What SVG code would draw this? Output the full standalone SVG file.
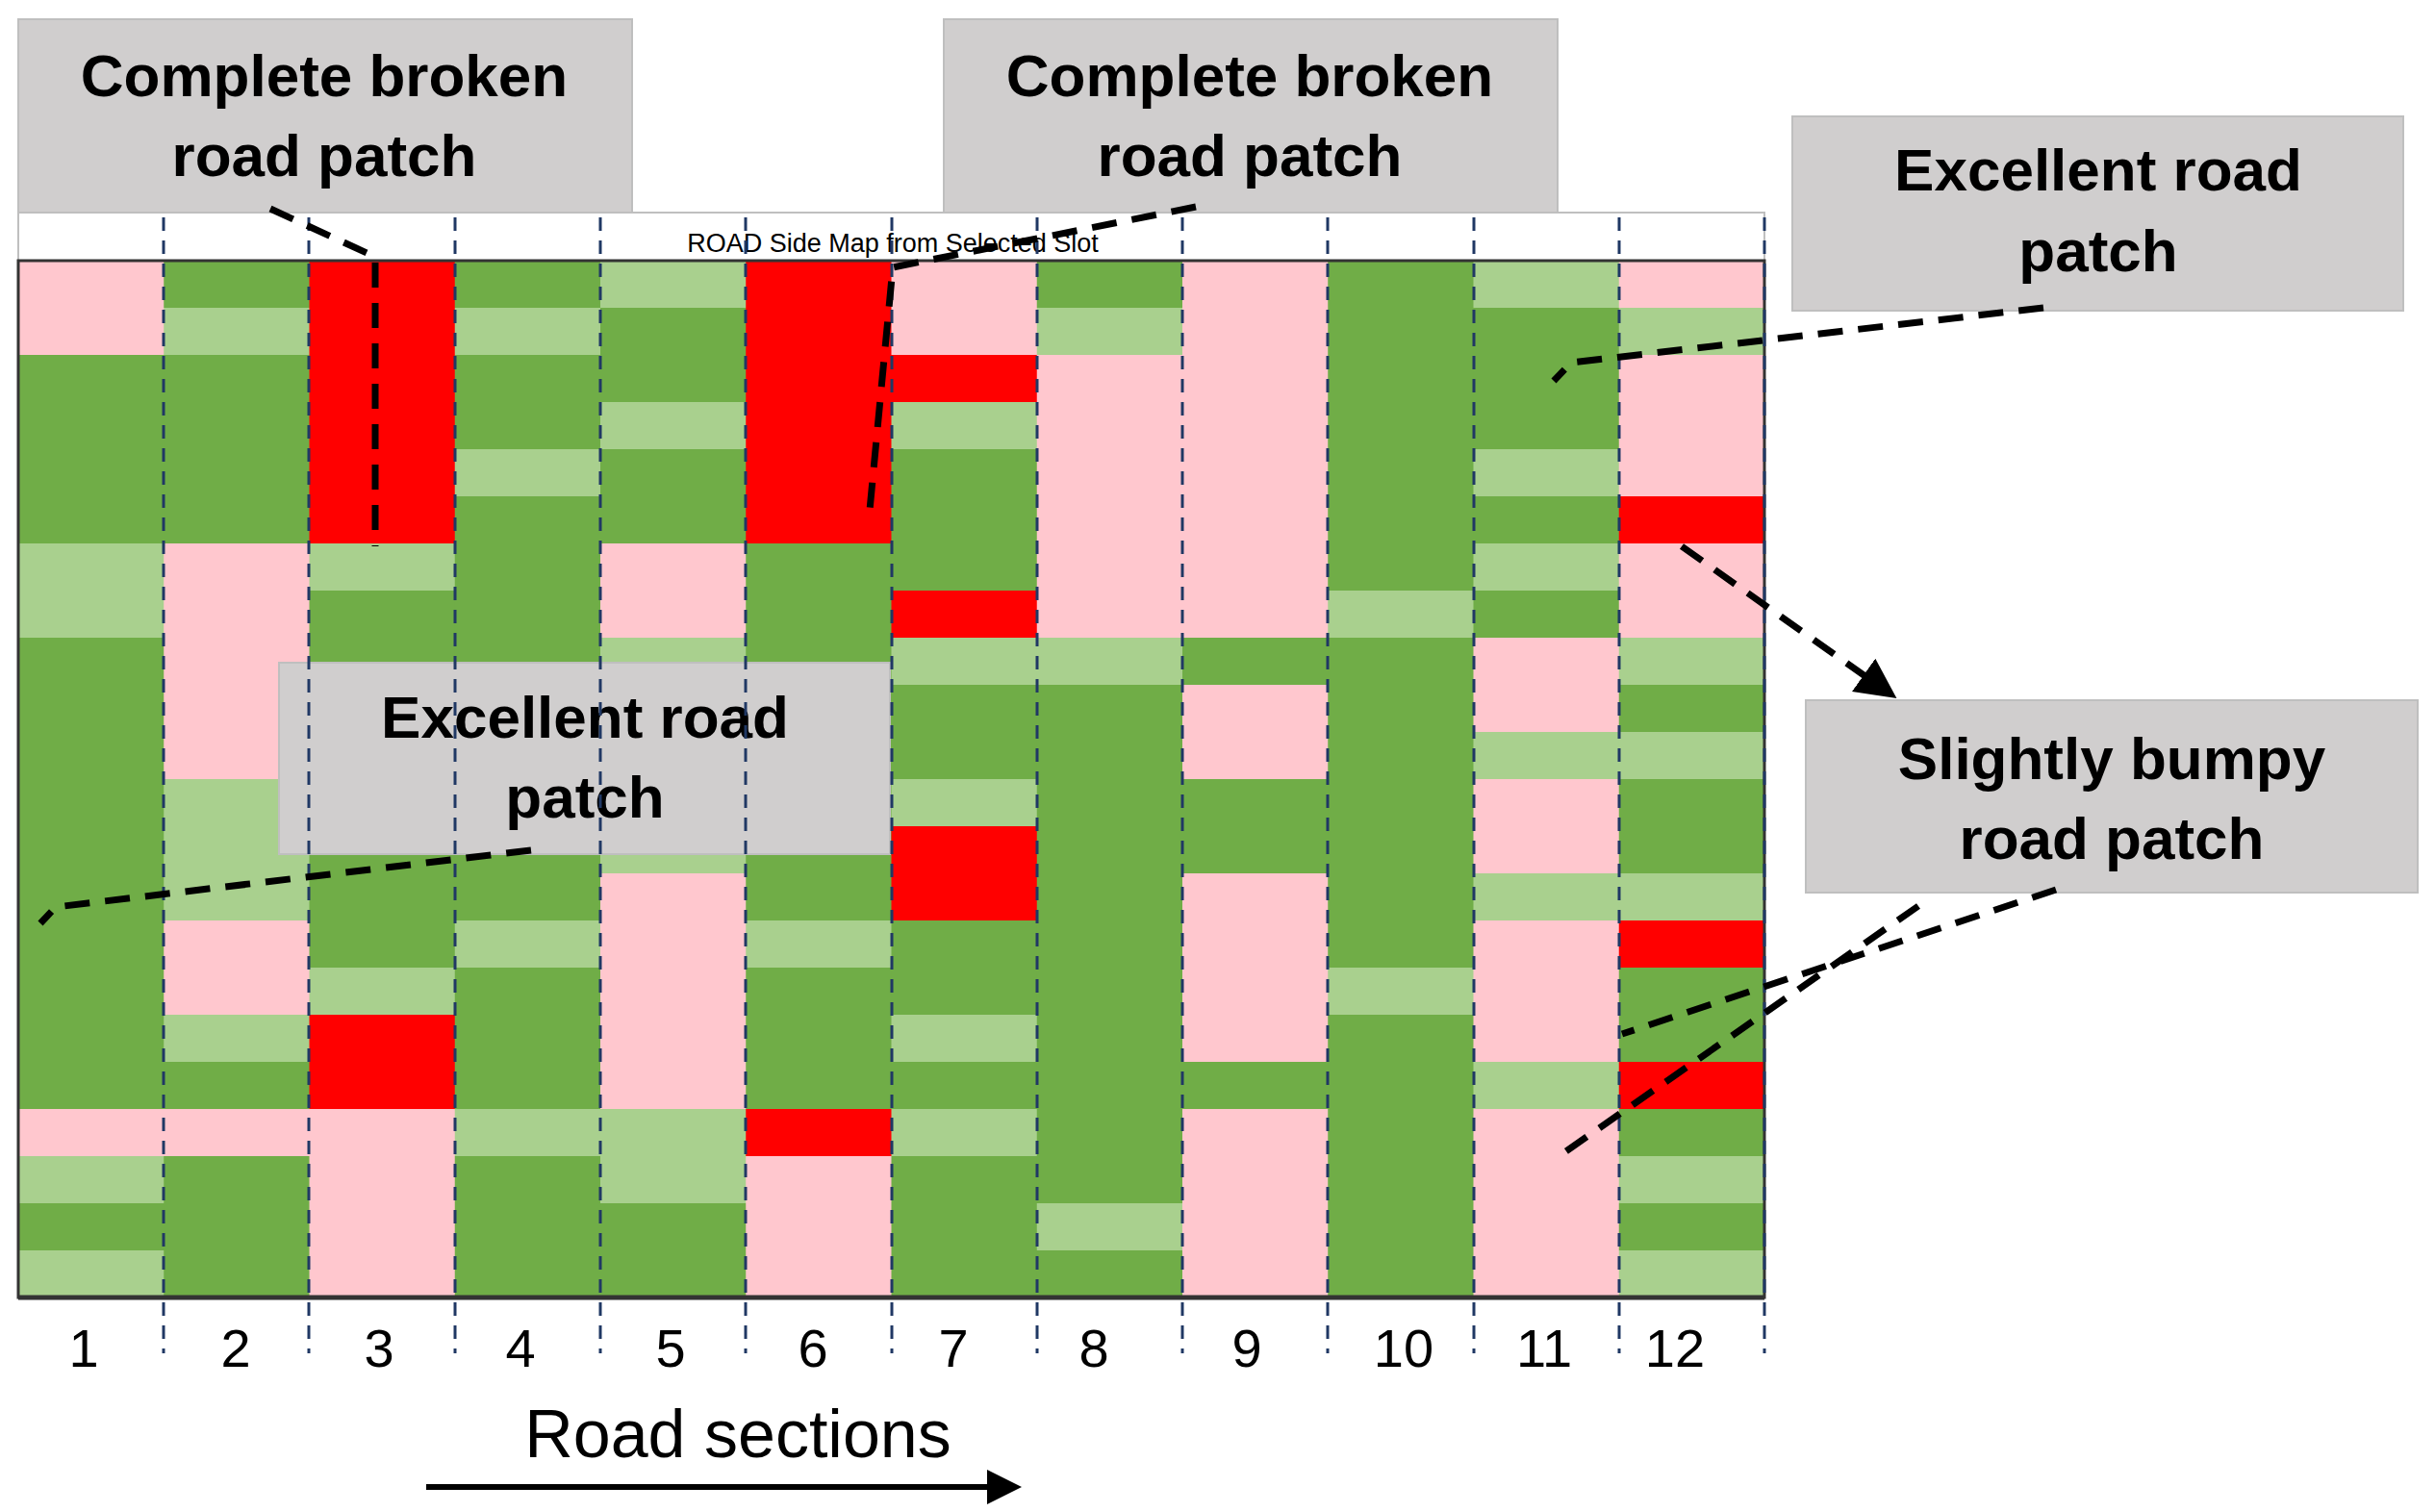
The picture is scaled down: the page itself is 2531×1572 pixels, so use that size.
<svg xmlns="http://www.w3.org/2000/svg" width="2531" height="1572" viewBox="0 0 2531 1572">
<style>
.G{fill:#70AD47}.L{fill:#A9D08E}.P{fill:#FFC7CE}.R{fill:#FF0000}
.box{fill:#D0CECE;stroke:#BFBFBF;stroke-width:2}
.bt{font-family:"Liberation Sans",Arial,sans-serif;font-weight:bold;font-size:62px;fill:#000;text-anchor:middle}
.num{font-family:"Liberation Sans",Arial,sans-serif;font-size:56px;fill:#000;text-anchor:middle}
.vl{stroke:#203864;stroke-width:3;stroke-dasharray:14 10;fill:none}
.con{stroke:#000;stroke-width:7;stroke-dasharray:26 16;fill:none}
</style>
<defs>
<marker id="ah" markerWidth="6" markerHeight="6" refX="4" refY="3" orient="auto" markerUnits="strokeWidth"><path d="M0,0 L6,3 L0,6 z" fill="#000"/></marker>
</defs>
<rect width="2531" height="1572" fill="#fff"/>
<g id="header">
<rect x="19" y="221" width="1815" height="50" fill="#fff" stroke="#BFBFBF" stroke-width="2"/>
<text x="928" y="262" font-family="Liberation Sans,Arial,sans-serif" font-size="27" text-anchor="middle">ROAD Side Map from Selected Slot</text>
</g>
<g id="grid">
<g transform="translate(19,0)"><rect class="P" y="271" width="152" height="98"/><rect class="G" y="369" width="152" height="196"/><rect class="L" y="565" width="152" height="98"/><rect class="G" y="663" width="152" height="490"/><rect class="P" y="1153" width="152" height="49"/><rect class="L" y="1202" width="152" height="49"/><rect class="G" y="1251" width="152" height="49"/><rect class="L" y="1300" width="152" height="49"/></g>
<g transform="translate(170.25,0)"><rect class="G" y="271" width="152" height="49"/><rect class="L" y="320" width="152" height="49"/><rect class="G" y="369" width="152" height="196"/><rect class="P" y="565" width="152" height="245"/><rect class="L" y="810" width="152" height="147"/><rect class="P" y="957" width="152" height="98"/><rect class="L" y="1055" width="152" height="49"/><rect class="G" y="1104" width="152" height="49"/><rect class="P" y="1153" width="152" height="49"/><rect class="G" y="1202" width="152" height="147"/></g>
<g transform="translate(321.5,0)"><rect class="R" y="271" width="152" height="294"/><rect class="L" y="565" width="152" height="49"/><rect class="G" y="614" width="152" height="392"/><rect class="L" y="1006" width="152" height="49"/><rect class="R" y="1055" width="152" height="98"/><rect class="P" y="1153" width="152" height="196"/></g>
<g transform="translate(472.75,0)"><rect class="G" y="271" width="152" height="49"/><rect class="L" y="320" width="152" height="49"/><rect class="G" y="369" width="152" height="98"/><rect class="L" y="467" width="152" height="49"/><rect class="G" y="516" width="152" height="441"/><rect class="L" y="957" width="152" height="49"/><rect class="G" y="1006" width="152" height="147"/><rect class="L" y="1153" width="152" height="49"/><rect class="G" y="1202" width="152" height="147"/></g>
<g transform="translate(624,0)"><rect class="L" y="271" width="152" height="49"/><rect class="G" y="320" width="152" height="98"/><rect class="L" y="418" width="152" height="49"/><rect class="G" y="467" width="152" height="98"/><rect class="P" y="565" width="152" height="98"/><rect class="L" y="663" width="152" height="245"/><rect class="P" y="908" width="152" height="245"/><rect class="L" y="1153" width="152" height="98"/><rect class="G" y="1251" width="152" height="98"/></g>
<g transform="translate(775.25,0)"><rect class="R" y="271" width="152" height="294"/><rect class="G" y="565" width="152" height="392"/><rect class="L" y="957" width="152" height="49"/><rect class="G" y="1006" width="152" height="147"/><rect class="R" y="1153" width="152" height="49"/><rect class="P" y="1202" width="152" height="147"/></g>
<g transform="translate(926.5,0)"><rect class="P" y="271" width="152" height="98"/><rect class="R" y="369" width="152" height="49"/><rect class="L" y="418" width="152" height="49"/><rect class="G" y="467" width="152" height="147"/><rect class="R" y="614" width="152" height="49"/><rect class="L" y="663" width="152" height="49"/><rect class="G" y="712" width="152" height="98"/><rect class="L" y="810" width="152" height="49"/><rect class="R" y="859" width="152" height="98"/><rect class="G" y="957" width="152" height="98"/><rect class="L" y="1055" width="152" height="49"/><rect class="G" y="1104" width="152" height="49"/><rect class="L" y="1153" width="152" height="49"/><rect class="G" y="1202" width="152" height="147"/></g>
<g transform="translate(1077.75,0)"><rect class="G" y="271" width="152" height="49"/><rect class="L" y="320" width="152" height="49"/><rect class="P" y="369" width="152" height="294"/><rect class="L" y="663" width="152" height="49"/><rect class="G" y="712" width="152" height="539"/><rect class="L" y="1251" width="152" height="49"/><rect class="G" y="1300" width="152" height="49"/></g>
<g transform="translate(1229,0)"><rect class="P" y="271" width="152" height="392"/><rect class="G" y="663" width="152" height="49"/><rect class="P" y="712" width="152" height="98"/><rect class="G" y="810" width="152" height="98"/><rect class="P" y="908" width="152" height="196"/><rect class="G" y="1104" width="152" height="49"/><rect class="P" y="1153" width="152" height="196"/></g>
<g transform="translate(1380.25,0)"><rect class="G" y="271" width="152" height="343"/><rect class="L" y="614" width="152" height="49"/><rect class="G" y="663" width="152" height="343"/><rect class="L" y="1006" width="152" height="49"/><rect class="G" y="1055" width="152" height="294"/></g>
<g transform="translate(1531.5,0)"><rect class="L" y="271" width="152" height="49"/><rect class="G" y="320" width="152" height="147"/><rect class="L" y="467" width="152" height="49"/><rect class="G" y="516" width="152" height="49"/><rect class="L" y="565" width="152" height="49"/><rect class="G" y="614" width="152" height="49"/><rect class="P" y="663" width="152" height="98"/><rect class="L" y="761" width="152" height="49"/><rect class="P" y="810" width="152" height="98"/><rect class="L" y="908" width="152" height="49"/><rect class="P" y="957" width="152" height="147"/><rect class="L" y="1104" width="152" height="49"/><rect class="P" y="1153" width="152" height="196"/></g>
<g transform="translate(1682.75,0)"><rect class="P" y="271" width="151.25" height="49"/><rect class="L" y="320" width="151.25" height="49"/><rect class="P" y="369" width="151.25" height="147"/><rect class="R" y="516" width="151.25" height="49"/><rect class="P" y="565" width="151.25" height="98"/><rect class="L" y="663" width="151.25" height="49"/><rect class="G" y="712" width="151.25" height="49"/><rect class="L" y="761" width="151.25" height="49"/><rect class="G" y="810" width="151.25" height="98"/><rect class="L" y="908" width="151.25" height="49"/><rect class="R" y="957" width="151.25" height="49"/><rect class="G" y="1006" width="151.25" height="98"/><rect class="R" y="1104" width="151.25" height="49"/><rect class="G" y="1153" width="151.25" height="49"/><rect class="L" y="1202" width="151.25" height="49"/><rect class="G" y="1251" width="151.25" height="49"/><rect class="L" y="1300" width="151.25" height="49"/></g>
<rect x="19" y="271" width="1815" height="1078" fill="none" stroke="#333" stroke-width="3"/>
<line x1="19" y1="1349" x2="1834" y2="1349" stroke="#333" stroke-width="5"/>
</g>
<g id="node-excellent-left"><rect class="box" x="290" y="689" width="635" height="199"/><text class="bt" x="608" y="767">Excellent road</text><text class="bt" x="608" y="850">patch</text></g>
<g id="column-lines">
<path class="vl" d="M170,226V1407M321,226V1407M473,226V1407M624,226V1407M775,226V1407M927,226V1407M1078,226V1407M1229,226V1407M1380,226V1407M1532,226V1407M1683,226V1407M1834,226V1407"/>
</g>
<g id="node-broken-1"><rect class="box" x="19" y="20" width="638" height="201"/><text class="bt" x="337" y="100">Complete broken</text><text class="bt" x="337" y="183">road patch</text></g>
<g id="node-broken-2"><rect class="box" x="981" y="20" width="638" height="201"/><text class="bt" x="1299" y="100">Complete broken</text><text class="bt" x="1299" y="183">road patch</text></g>
<g id="node-excellent-right"><rect class="box" x="1863" y="121" width="635" height="202"/><text class="bt" x="2181" y="198">Excellent road</text><text class="bt" x="2181" y="282">patch</text></g>
<g id="node-bumpy"><rect class="box" x="1877" y="728" width="636" height="200"/><text class="bt" x="2195" y="810">Slightly bumpy</text><text class="bt" x="2195" y="893">road patch</text></g>
<g id="connectors">
<path class="con" d="M281,217 L390,267 L390,568"/>
<path class="con" d="M1243,215 L928,278 L903,541"/>
<path class="con" d="M2124,320 L1633,377 L1615,396"/>
<path class="con" d="M552,884 L58,943 L42,960"/>
<path class="con" d="M2137,925 L1686,1075"/>
<path class="con" d="M1994,942 L1619,1203"/>
<path class="con" d="M1748,568 L1960,718" marker-end="url(#ah)" stroke-dasharray="40 22"/>
</g>
<g id="axis">
<text class="num" x="87" y="1421">1</text><text class="num" x="245" y="1421">2</text><text class="num" x="394" y="1421">3</text><text class="num" x="541" y="1421">4</text><text class="num" x="697" y="1421">5</text><text class="num" x="845" y="1421">6</text><text class="num" x="991" y="1421">7</text><text class="num" x="1137" y="1421">8</text><text class="num" x="1296" y="1421">9</text><text class="num" x="1459" y="1421">10</text><text class="num" x="1605" y="1421">11</text><text class="num" x="1741" y="1421">12</text>
<text x="767" y="1515" font-family="Liberation Sans,Arial,sans-serif" font-size="70" text-anchor="middle">Road sections</text>
<line x1="443" y1="1546" x2="1050" y2="1546" stroke="#000" stroke-width="6" marker-end="url(#ah)"/>
</g>
</svg>
